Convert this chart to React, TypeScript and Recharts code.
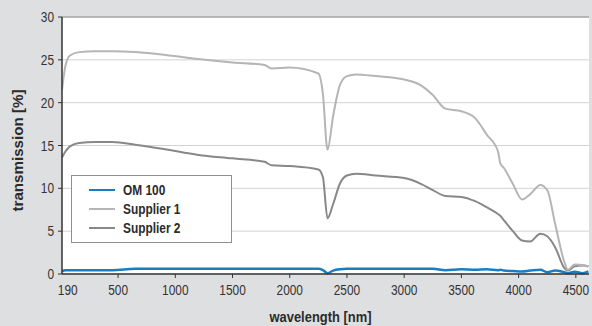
import React from "react";
import { LineChart, Line, XAxis, YAxis, CartesianGrid, ReferenceLine, Legend } from "recharts";

// x positions follow the axis scale (the leftmost tick is labelled 190)
const WAVELENGTH = [10, 40, 80, 160, 300, 450, 650, 900, 1200, 1500, 1780, 1840, 2000, 2250, 2290, 2330, 2380, 2440, 2500, 2580, 2750, 3000, 3150, 3250, 3360, 3500, 3620, 3720, 3820, 3840, 3870, 3950, 4030, 4100, 4190, 4250, 4320, 4400, 4430, 4490, 4560, 4610];
const OM100 = [0.3, 0.45, 0.45, 0.45, 0.45, 0.45, 0.6, 0.6, 0.6, 0.6, 0.6, 0.6, 0.6, 0.6, 0.45, 0.1, 0.4, 0.55, 0.6, 0.6, 0.6, 0.6, 0.6, 0.6, 0.45, 0.55, 0.5, 0.55, 0.45, 0.5, 0.4, 0.35, 0.3, 0.4, 0.5, 0.2, 0.4, 0.2, 0.1, 0.25, 0.1, 0.3];
const SUPPLIER1 = [21.5, 24.3, 25.5, 25.9, 26.0, 26.0, 25.9, 25.6, 25.1, 24.7, 24.4, 24.0, 24.1, 23.4, 21.0, 14.5, 18.5, 22.1, 23.1, 23.3, 23.1, 22.7, 22.0, 20.9, 19.3, 19.0, 18.2, 16.3, 14.3, 12.9, 12.4, 10.5, 8.7, 9.3, 10.4, 9.8, 5.8, 1.4, 0.5, 1.1, 1.05, 0.85];
const SUPPLIER2 = [13.6, 14.3, 14.9, 15.3, 15.4, 15.4, 15.1, 14.6, 13.9, 13.5, 13.1, 12.7, 12.6, 12.2, 11.3, 6.5, 8.2, 10.6, 11.5, 11.7, 11.5, 11.2, 10.5, 9.8, 9.1, 9.0, 8.5, 7.8, 7.0, 6.8, 6.3, 5.0, 3.9, 3.8, 4.7, 4.4, 3.1, 0.7, 0.4, 0.9, 1.0, 0.9];

const X_TICKS = [60, 500, 1000, 1500, 2000, 2500, 3000, 3500, 4000, 4500];
const X_TICK_LABELS = ["190", "500", "1000", "1500", "2000", "2500", "3000", "3500", "4000", "4500"];
const Y_TICKS = [0, 5, 10, 15, 20, 25, 30];

const SERIES = [
  { key: "om100", name: "OM 100", color: "#1a7dc2", width: 2.5 },
  { key: "s1", name: "Supplier 1", color: "#b4b5b7", width: 2 },
  { key: "s2", name: "Supplier 2", color: "#87888a", width: 2 },
];

// condensed look: Liberation Sans squeezed horizontally
const FONT = "'Liberation Sans', Arial, sans-serif";
const SQUEEZE = 0.82;
const TEXT = "#333";
const TITLE = "#2b2b2b";

const data = WAVELENGTH.map((wl, i) => ({ wl, om100: OM100[i], s1: SUPPLIER1[i], s2: SUPPLIER2[i] }));

const XTick = ({ x, y, payload, index }: any) => {
  const label = X_TICK_LABELS[X_TICKS.indexOf(payload.value)] ?? payload.value;
  return (
    <g>
      {index > 0 && <line x1={x} x2={x} y1={y - 10} y2={y - 6} stroke={TEXT} />}
      <text transform={`translate(${x} ${y + 11}) scale(${SQUEEZE} 1)`} textAnchor="middle" fill={TEXT} fontSize={14.5} fontFamily={FONT}>{label}</text>
    </g>
  );
};

const YTick = ({ x, y, payload }: any) => (
  <text transform={`translate(${x + 1} ${y + 5}) scale(${SQUEEZE} 1)`} textAnchor="end" fill={TEXT} fontSize={14.5} fontFamily={FONT}>{payload.value}</text>
);

const YTitle = ({ viewBox }: any) => {
  const cx = viewBox.x + 23;
  const cy = viewBox.y + viewBox.height / 2 + 5;
  return (
    <text x={cx} y={cy} transform={`rotate(-90 ${cx} ${cy})`} textAnchor="middle" textLength={122} lengthAdjust="spacingAndGlyphs" fill={TITLE} fontSize={15} fontWeight={700} fontFamily={FONT}>
      transmission [%]
    </text>
  );
};

const XTitle = ({ viewBox }: any) => (
  <text x={viewBox.x + viewBox.width / 2 - 5} y={viewBox.y + 48} textAnchor="middle" textLength={102} lengthAdjust="spacingAndGlyphs" fill={TITLE} fontSize={15} fontWeight={700} fontFamily={FONT}>
    wavelength [nm]
  </text>
);

const LegendBox = () => (
  <div style={{ width: 161, height: 68, boxSizing: "border-box", border: "1px solid #8f8f8f", background: "#fff", padding: "4px 0 0 17px", fontFamily: FONT, fontWeight: 700, fontSize: 14.5, color: TITLE }}>
    {SERIES.map((s) => (
      <div key={s.key} style={{ display: "flex", alignItems: "center", height: 19 }}>
        <span style={{ width: 26, height: 0, borderTop: `${s.width}px solid ${s.color}`, marginRight: 8 }} />
        <span style={{ display: "inline-block", transform: `scaleX(${SQUEEZE})`, transformOrigin: "left center", whiteSpace: "nowrap" }}>{s.name}</span>
      </div>
    ))}
  </div>
);

export default function App() {
  return (
    <div style={{ position: "fixed", left: 0, top: 0, width: 592, height: 326, background: "#dedfe0" }}>
      <LineChart width={592} height={326} data={data} margin={{ top: 17, right: 3, bottom: 0, left: 0 }}>
        <CartesianGrid vertical={false} stroke="#d2d2d2" fill="#fff" />
        <ReferenceLine y={30} stroke="#8c8c8c" />
        <XAxis
          dataKey="wl"
          type="number"
          domain={[10, 4615]}
          ticks={X_TICKS}
          interval={0}
          height={52}
          tickSize={4}
          tickMargin={6}
          tickLine={false}
          tick={<XTick />}
          axisLine={{ stroke: TEXT, strokeWidth: 1.5 }}
          label={{ content: <XTitle /> }}
        />
        <YAxis
          type="number"
          domain={[0, 30]}
          ticks={Y_TICKS}
          interval={0}
          width={62}
          tickSize={4}
          tickMargin={5}
          tickLine={{ stroke: TEXT }}
          tick={<YTick />}
          axisLine={{ stroke: TEXT, strokeWidth: 1.5 }}
          label={{ content: <YTitle /> }}
        />
        <Legend layout="horizontal" verticalAlign="middle" align="center" content={<LegendBox />} wrapperStyle={{ left: 71, top: 175, width: 161, height: 68 }} />
        {[...SERIES].reverse().map((s) => (
          <Line key={s.key} type="monotone" dataKey={s.key} name={s.name} stroke={s.color} strokeWidth={s.width} dot={false} activeDot={false} isAnimationActive={false} />
        ))}
      </LineChart>
    </div>
  );
}
